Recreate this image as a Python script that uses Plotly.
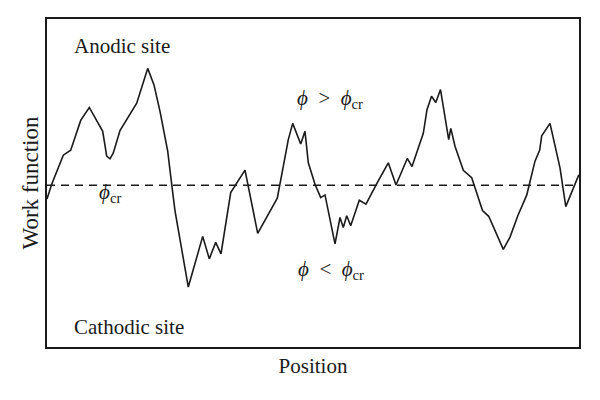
import plotly.graph_objects as go

# Position (arbitrary units) and work function (arbitrary units)
position = [0, 4.7, 16.3, 23.7, 33.7, 42.3, 55.7, 59.7, 63, 66.3, 73, 81.3, 89.7, 100.7, 107, 113,
            120.7, 124.7, 128, 141.3, 155.7, 162.3, 168.7, 174, 178, 183.7, 198, 210.7, 230.3,
            241.3, 245.7, 253.7, 258, 261.3, 268, 273.7, 278, 288, 293, 296.3, 299.7, 303.7,
            312.3, 319, 330.3, 341.3, 349, 360.3, 365, 376.3, 380, 384.5, 388.8, 393.5, 401.7,
            403.8, 408, 416.3, 424.7, 435.5, 441.7, 456.3, 463, 470.8, 479.7, 488, 492.7, 494.7,
            503, 513, 518.8, 531.8]
work_function = [149, 163.7, 193, 198, 228, 241, 217, 192, 189.3, 195.3, 217.7, 232, 245.3, 280.3,
                 263.7, 237, 197, 163.7, 137, 60.3, 111.3, 88.7, 105.3, 93.7, 120.3, 155.3, 178,
                 114.3, 149.7, 208.7, 225, 204.3, 217, 185.3, 163.7, 150.3, 153, 103.7, 130.3,
                 120.3, 132, 122, 147.7, 143.7, 165.3, 185.3, 163, 189.7, 181.5, 215, 238.7, 252.3,
                 246, 259, 208.7, 220, 202, 177.8, 170.3, 137.3, 131.5, 98.2, 110.6, 132, 152.8,
                 187, 198.2, 212.5, 225, 180.3, 141.2, 173.3]
phi_cr = 162.7
x_range = [0, 532]
y_range = [0, 330]

font_family = "Liberation Serif"
ink = "#1a1a1a"

fig = go.Figure()
fig.add_trace(go.Scatter(x=position, y=work_function, mode="lines",
                         line=dict(color=ink, width=1.6), hoverinfo="skip"))
fig.add_trace(go.Scatter(x=x_range, y=[phi_cr, phi_cr], mode="lines",
                         line=dict(color=ink, width=1.4, dash="8px,6px"), hoverinfo="skip"))

annots = [
    dict(x=25, y=303, text="Anodic site", xanchor="left"),
    dict(x=25, y=20, text="Cathodic site", xanchor="left"),
    dict(x=283, y=250, text="<i>ϕ</i>&nbsp; &gt;&nbsp; <i>ϕ</i><sub>cr</sub>", xanchor="center"),
    dict(x=284, y=77, text="<i>ϕ</i>&nbsp; &lt;&nbsp; <i>ϕ</i><sub>cr</sub>", xanchor="center"),
    dict(x=63, y=155, text="<i>ϕ</i><sub>cr</sub>", xanchor="center"),
]
for a in annots:
    fig.add_annotation(x=a["x"], y=a["y"], text=a["text"], xanchor=a["xanchor"], yanchor="middle",
                       showarrow=False, font=dict(family=font_family, size=21, color=ink))

fig.update_layout(
    width=600, height=400,
    margin=dict(l=39, r=29, t=9, b=61),
    paper_bgcolor="white", plot_bgcolor="white",
    showlegend=False,
    font=dict(family=font_family, size=21, color=ink),
    xaxis=dict(range=x_range, showticklabels=False, ticks="", showgrid=False, zeroline=False,
               showline=True, mirror=True, linecolor=ink, linewidth=1.5,
               title=dict(text="Position", standoff=11, font=dict(family=font_family, size=21))),
    yaxis=dict(range=y_range, showticklabels=False, ticks="", showgrid=False, zeroline=False,
               showline=True, mirror=True, linecolor=ink, linewidth=1.5,
               title=dict(text="Work function", standoff=0, font=dict(family=font_family, size=23))),
)

fig.write_html("out.html")
